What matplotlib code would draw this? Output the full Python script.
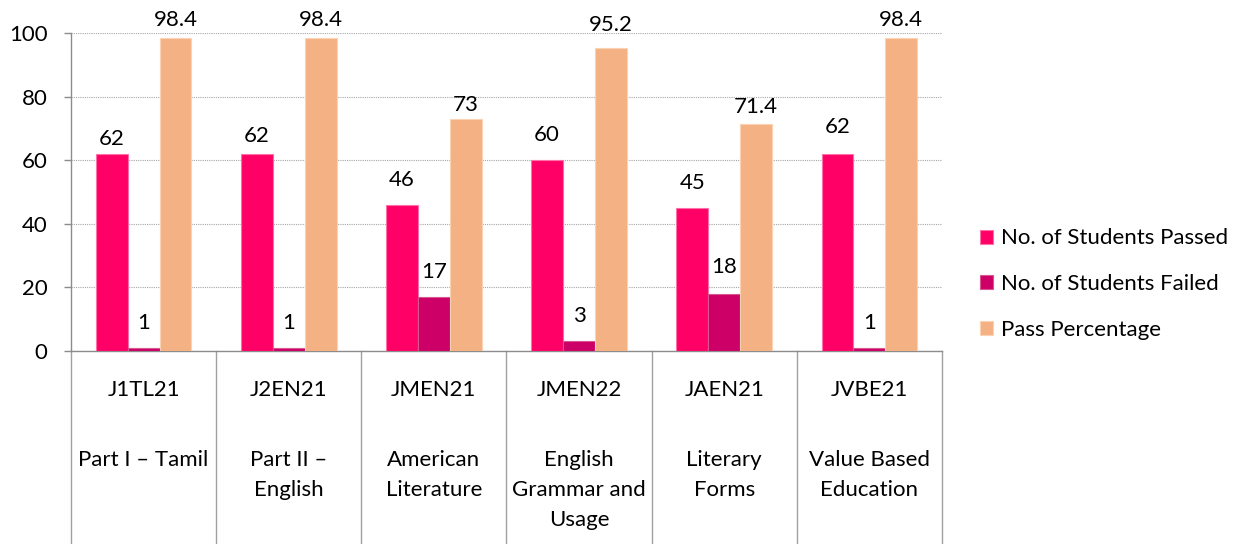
import numpy as np
import matplotlib
matplotlib.use('Agg')
import matplotlib.pyplot as plt
import matplotlib.transforms as mtransforms

plt.rcParams['font.family'] = ['Lato', 'DejaVu Sans']
plt.rcParams['font.size'] = 16

codes = ['J1TL21', 'J2EN21', 'JMEN21', 'JMEN22', 'JAEN21', 'JVBE21']
subjects = ['Part I \u2013 Tamil', 'Part II \u2013\nEnglish', 'American\nLiterature',
            'English\nGrammar and\nUsage', 'Literary\nForms', 'Value Based\nEducation']
passed = [62, 62, 46, 60, 45, 62]
failed = [1, 1, 17, 3, 18, 1]
pass_pct = [98.4, 98.4, 73, 95.2, 71.4, 98.4]
series_names = ['No. of Students Passed', 'No. of Students Failed', 'Pass Percentage']

colors = ['#FF0066', '#CC0066', '#F4B183']
edges = ['#FF6FA8', '#D9558F', '#FAD3B5']
# label offsets above the bar tops (points), a few were nudged in the original
label_offsets = [
    [11, 13, 18, 18, 18, 19],
    [18, 18, 18, 18, 19, 18],
    [13, 13, 10, 17, 12, 13],
]

fig = plt.figure(figsize=(12.36, 5.44), dpi=100)
ax = fig.add_axes([71 / 1236, 1 - 351 / 544, (942 - 71) / 1236, (351 - 33) / 544])

x = np.arange(len(codes))
w = 0.22
series = [passed, failed, pass_pct]
for i, vals in enumerate(series):
    bars = ax.bar(x + (i - 1) * w, vals, w, color=colors[i], edgecolor=edges[i],
                  linewidth=0.8, label=series_names[i], zorder=3)
    for j, b in enumerate(bars):
        v = vals[j]
        ax.annotate(f'{v:g}', (b.get_x() + b.get_width() / 2, v),
                    xytext=(0, label_offsets[i][j]), textcoords='offset points',
                    ha='center', va='center', fontsize=16, color='black',
                    annotation_clip=False, zorder=4)

ax.set_xlim(-0.5, len(codes) - 0.5)
ax.set_ylim(0, 100)
ax.set_yticks([0, 20, 40, 60, 80, 100])
ax.yaxis.grid(True, linestyle=(0, (1, 1)), color='#A6A6A6', linewidth=0.8, zorder=0)
ax.set_xticks([])
ax.tick_params(axis='y', length=5, width=1, color='#8C8C8C', pad=12, labelsize=16)
for s in ['top', 'right']:
    ax.spines[s].set_visible(False)
for s in ['left', 'bottom']:
    ax.spines[s].set_color('#8C8C8C')
    ax.spines[s].set_linewidth(1)

# table-style category labels below the axis
trans = mtransforms.blended_transform_factory(ax.transData, ax.transAxes)
px = 1 / 318.0
bottom = -(544 - 351) * px
for k in range(len(codes) + 1):
    ax.plot([k - 0.5, k - 0.5], [0, bottom], transform=trans, color='#A0A0A0',
            linewidth=1, clip_on=False)
for j, (c, s) in enumerate(zip(codes, subjects)):
    ax.text(j, -(390 - 351) * px, c, transform=trans, ha='center', va='center', fontsize=16)
    for n, line in enumerate(s.split('\n')):
        ax.text(j, -(460 + 30 * n - 351) * px, line, transform=trans,
                ha='center', va='center', fontsize=16)

fig.legend(loc='center left', bbox_to_anchor=(980 / 1236, 1 - 284 / 544),
           frameon=False, fontsize=16, handlelength=0.6, handleheight=0.6,
           handletextpad=0.35, labelspacing=1.15, borderpad=0, borderaxespad=0)

fig.savefig('out.png', dpi=100)
